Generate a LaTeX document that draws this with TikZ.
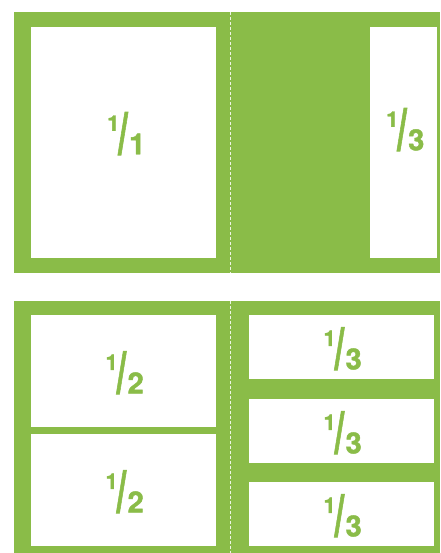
\documentclass[tikz,border=0pt]{standalone}
\usepackage{fontspec}
\setmainfont{TeX Gyre Heros}
\newfontfamily\fracfont[FakeBold=1.5]{TeX Gyre Heros Bold}
\usepackage{graphicx}
\definecolor{leaf}{HTML}{8ABC48}
\newcommand{\frc}[2]{\fracfont
  \raisebox{23.5pt}{\fontsize{21.5}{21.5}\selectfont #1}\kern-1pt
  \resizebox*{9.5pt}{43pt}{\fontsize{28}{28}\selectfont/}\kern1.5pt
  {\fontsize{29}{29}\selectfont #2}}

\begin{document}
\begin{tikzpicture}[
  x=1pt, y=-1pt,
  panel/.style={fill=leaf},
  pane/.style={fill=white,draw=none,anchor=north west,inner sep=0pt},
  lbl/.style={text=leaf,inner sep=0pt},
  fold/.style={white!85!leaf,line width=0.8pt,dash pattern=on 3pt off 2pt},
]
\useasboundingbox (0,0) rectangle (440,553);

% ---------- top: one full page and a third ----------
\fill[panel] (14,12) rectangle (440,273);
\node[pane,minimum width=185pt,minimum height=231pt] (full) at (31,27) {};
\node[pane,minimum width=67pt,minimum height=231pt] (thirdR) at (370,27) {};
\coordinate (foldA) at (230.5,12);
\coordinate (foldB) at (230.5,273);
\draw[fold] (foldA) -- (foldB);
\node[lbl] (fullL) at (126.3,133.6) {\frc{1}{1}};
\node[lbl] (thirdRL) at (405.3,129.6) {\frc{1}{3}};

% ---------- bottom: halves and thirds ----------
\fill[panel] (14,301) rectangle (440,553);
\node[pane,minimum width=185pt,minimum height=112pt] (halfA) at (31,315) {};
\node[pane,minimum width=185pt,minimum height=112pt] (halfB) at (31,434) {};
\node[pane,minimum width=185pt,minimum height=64pt] (thirdA) at (249,315) {};
\node[pane,minimum width=185pt,minimum height=64pt] (thirdB) at (249,399) {};
\node[pane,minimum width=185pt,minimum height=64pt] (thirdC) at (249,482) {};
\coordinate (foldC) at (230.5,301);
\coordinate (foldD) at (230.5,553);
\draw[fold] (foldC) -- (foldD);
\node[lbl] at ([xshift=1pt,yshift=-1.5pt]halfA.center) {\frc{1}{2}};
\node[lbl] at ([xshift=1pt,yshift=-1.5pt]halfB.center) {\frc{1}{2}};
\node[lbl] at ([xshift=1pt,yshift=-1.5pt]thirdA.center) {\frc{1}{3}};
\node[lbl] at ([xshift=1pt,yshift=-1.5pt]thirdB.center) {\frc{1}{3}};
\node[lbl] at ([xshift=1pt,yshift=-1.5pt]thirdC.center) {\frc{1}{3}};
\end{tikzpicture}
\end{document}
